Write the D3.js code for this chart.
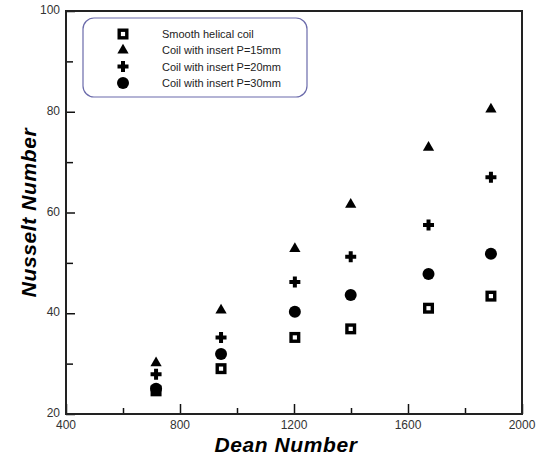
<!DOCTYPE html>
<html>
<head>
<meta charset="utf-8">
<script src="https://cdn.jsdelivr.net/npm/d3@7"></script>
<style>
  body { margin: 0; background: #fff; }
  text { font-family: "Liberation Sans", Arial, sans-serif; }
</style>
</head>
<body>
<div id="chart"></div>
<script>
// Dean numbers (x) for each measurement column
const deanNumbers = [716, 944, 1203, 1399, 1672, 1891];

// Nusselt number series
const smoothCoil = [24.6, 29.0, 35.2, 36.9, 41.0, 43.4];
const insertP15 = [30.1, 40.6, 52.8, 61.6, 72.9, 80.5];
const insertP20 = [27.9, 35.2, 46.2, 51.2, 57.5, 67.0];
const insertP30 = [25.0, 31.9, 40.3, 43.6, 47.8, 51.8];

const seriesNames = ["Smooth helical coil", "Coil with insert P=15mm",
                     "Coil with insert P=20mm", "Coil with insert P=30mm"];
const xTicks = [400, 800, 1200, 1600, 2000];
const yTicks = [20, 40, 60, 80, 100];

const width = 537, height = 458;
const margin = {left: 66, right: 15, top: 11, bottom: 44};

const svg = d3.select('#chart').append('svg')
    .attr('width', width)
    .attr('height', height);

const x = d3.scaleLinear().domain([400, 2000]).range([margin.left, width - margin.right]);
const y = d3.scaleLinear().domain([20, 100]).range([height - margin.bottom, margin.top]);

// minor / major ticks pointing inward
const xAxis = d3.axisBottom(x).tickValues(d3.range(400, 2001, 200))
    .tickSize(0).tickFormat('');
const gx = svg.append('g').attr('transform', `translate(0,${y(20)})`).call(xAxis);
gx.selectAll('.tick line').attr('y2', d => xTicks.includes(d) ? -10 : -6)
    .attr('stroke', '#111').attr('stroke-width', 1.5);
gx.select('.domain').remove();

const yAxis = d3.axisLeft(y).tickValues(d3.range(20, 101, 10))
    .tickSize(0).tickFormat('');
const gy = svg.append('g').attr('transform', `translate(${x(400)},0)`).call(yAxis);
gy.selectAll('.tick line').attr('x2', d => yTicks.includes(d) ? 9 : 7)
    .attr('stroke', '#111').attr('stroke-width', 1.5);
gy.select('.domain').remove();

// frame
svg.append('rect')
    .attr('x', x(400)).attr('y', y(100))
    .attr('width', x(2000) - x(400)).attr('height', y(20) - y(100))
    .attr('fill', 'none').attr('stroke', '#222').attr('stroke-width', 2);

// tick labels
svg.selectAll('.xlab').data(xTicks).enter().append('text')
    .attr('x', d => x(d)).attr('y', y(20) + 15)
    .attr('text-anchor', 'middle').attr('font-size', 12).attr('fill', '#333')
    .text(d => d);
svg.selectAll('.ylab').data(yTicks).enter().append('text')
    .attr('x', x(400) - 6).attr('y', d => y(d) + 3)
    .attr('text-anchor', 'end').attr('font-size', 12).attr('fill', '#333')
    .text(d => d);

// axis titles
svg.append('text')
    .attr('x', (x(400) + x(2000)) / 2 - 8).attr('y', 452)
    .attr('text-anchor', 'middle').attr('font-size', 21)
    .attr('font-weight', 'bold').attr('font-style', 'italic')
    .attr('letter-spacing', 0.6)
    .text('Dean Number');
svg.append('text')
    .attr('transform', `translate(36,${(y(20) + y(100)) / 2}) rotate(-90)`)
    .attr('text-anchor', 'middle').attr('font-size', 21)
    .attr('font-weight', 'bold').attr('font-style', 'italic')
    .attr('letter-spacing', 0.6)
    .text('Nusselt Number');

// markers
function drawMarker(g, kind) {
  if (kind === 0) {
    g.append('rect').attr('x', -3.8).attr('y', -3.8).attr('width', 7.6).attr('height', 7.6)
      .attr('fill', '#fff').attr('stroke', '#000').attr('stroke-width', 3.4);
  } else if (kind === 1) {
    g.append('path').attr('d', d3.symbol(d3.symbolTriangle, 55)()).attr('fill', '#000');
  } else if (kind === 2) {
    g.append('path').attr('d', 'M-5.5,0H5.5M0,-5.5V5.5').attr('stroke', '#000').attr('stroke-width', 4);
  } else {
    g.append('circle').attr('r', 6).attr('fill', '#000');
  }
}

const allSeries = [smoothCoil, insertP15, insertP20, insertP30];
allSeries.forEach((series, k) => {
  series.forEach((v, i) => {
    const g = svg.append('g').attr('transform', `translate(${x(deanNumbers[i])},${y(v)})`);
    drawMarker(g, k);
  });
});

// legend
const leg = svg.append('g');
leg.append('rect')
    .attr('x', 83).attr('y', 18).attr('width', 224).attr('height', 79)
    .attr('rx', 11).attr('ry', 11)
    .attr('fill', '#fff').attr('stroke', '#6b6bab').attr('stroke-width', 1.2);
seriesNames.forEach((name, i) => {
  const ry = 34 + i * 16.3;
  const g = leg.append('g').attr('transform', `translate(123,${ry})`);
  drawMarker(g, i);
  leg.append('text').attr('x', 162).attr('y', ry + 4)
    .attr('font-size', 11).attr('fill', '#222').text(name);
});
</script>
</body>
</html>
